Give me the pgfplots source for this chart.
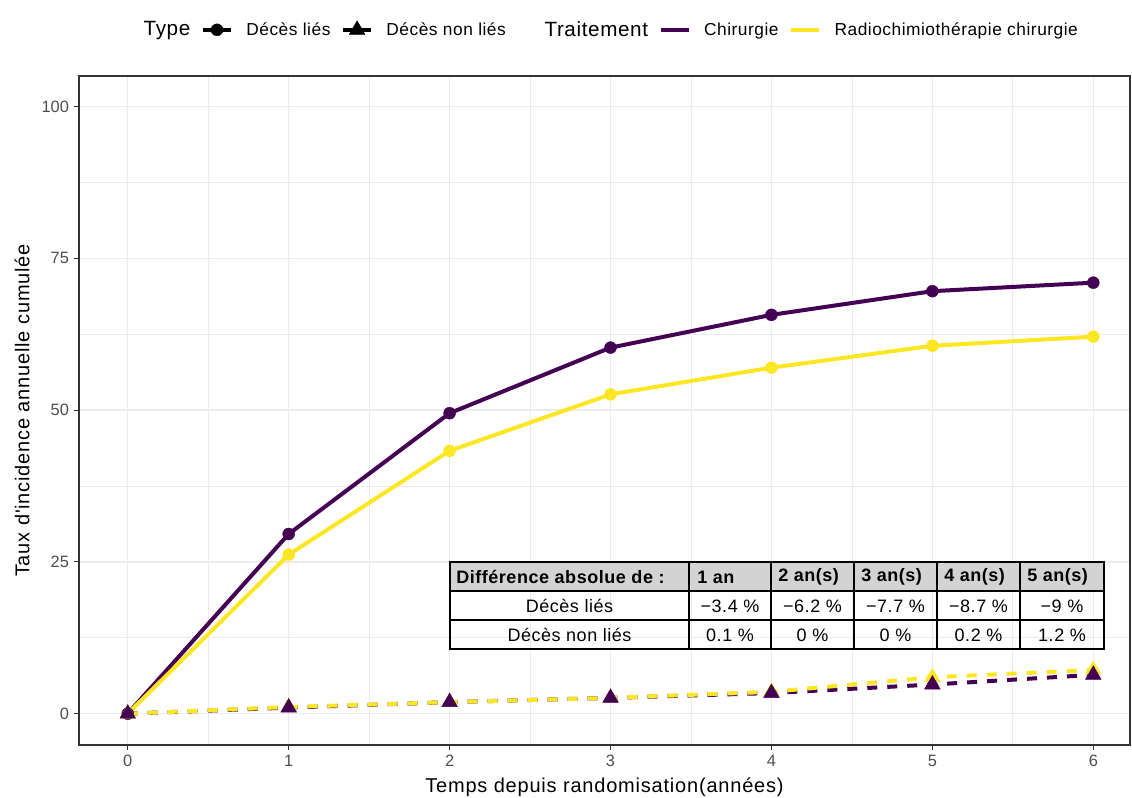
\documentclass[border=0pt]{standalone}
\usepackage{pgfplots}
\pgfplotsset{compat=1.18}
\usepackage{fontspec}
\setmainfont{Liberation Sans}
\newfontfamily\lsfont[LetterSpace=4]{Liberation Sans}
\newfontfamily\lsfontb[LetterSpace=3]{Liberation Sans}
\definecolor{vpurple}{HTML}{440154}
\definecolor{vyellow}{HTML}{FDE725}
\definecolor{gridc}{HTML}{EBEBEB}
\definecolor{grey20}{HTML}{333333}
\definecolor{grey30}{HTML}{4D4D4D}
\definecolor{hdr}{HTML}{D3D3D3}

\pgfplotstableread{
x y
0 0
1 29.6
2 49.5
3 60.3
4 65.7
5 69.6
6 71.0
}\chirlies
\pgfplotstableread{
x y
0 0
1 26.2
2 43.3
3 52.6
4 57.0
5 60.6
6 62.1
}\radiolies
\pgfplotstableread{
x y
0 0
1 1.0
2 1.9
3 2.6
4 3.4
5 4.8
6 6.4
}\chirnonlies
\pgfplotstableread{
x y
0 0
1 1.1
2 1.9
3 2.6
4 3.6
5 6.0
6 7.2
}\radiononlies

\begin{document}
\begin{tikzpicture}
\path[use as bounding box] (-59.25pt,-39.75pt) rectangle (789.75pt,558.75pt);
\begin{axis}[
  at={(0,0)}, anchor=south west,
  scale only axis,
  width=788.25pt, height=501.75pt,
  xmin=-0.303, xmax=6.228,
  ymin=-5.16, ymax=105.05,
  xtick={0,1,2,3,4,5,6},
  minor xtick={0.5,1.5,2.5,3.5,4.5,5.5},
  ytick={0,25,50,75,100},
  minor ytick={12.5,37.5,62.5,87.5},
  grid=both,
  major grid style={color=gridc, line width=1.1pt},
  minor grid style={color=gridc, line width=0.55pt},
  axis line style={color=grey20, line width=1pt},
  tick style={color=grey20, line width=0.8pt},
  major tick length=4pt, minor tick length=0pt,
  tick align=outside,
  xtick pos=bottom, ytick pos=left,
  /pgf/number format/assume math mode=true,
  tick label style={font=\fontsize{12.3}{14}\selectfont, color=grey30},
  xlabel={\lsfont\fontsize{15}{17}\selectfont Temps depuis randomisation(années)},
  ylabel={\lsfont\fontsize{15}{17}\selectfont Taux d'incidence annuelle cumulée},
  xlabel style={at={(axis description cs:0.5,-0.063)}, anchor=center},
  ylabel style={at={(axis description cs:-0.0542,0.5)}, anchor=center},
  legend image code/.code={\draw[mark repeat=2,mark phase=2,#1] plot coordinates {(0pt,0pt) (10.5pt,0pt) (21pt,0pt)};},
  legend columns=-1,
  legend style={at={(0.506,1.069)}, anchor=center, draw=none, fill=none,
    font=\lsfontb\fontsize{13}{15}\selectfont,
    nodes={inner xsep=0pt},
    /tikz/every odd column/.append style={column sep=10pt},
    /tikz/every even column/.append style={column sep=8pt}},
]
\addlegendimage{empty legend}\addlegendentry{\hspace{-10pt}\fontsize{15.5}{17}\selectfont Type}
\addlegendimage{black, line width=3pt, mark=*, mark size=4.5pt, mark options={solid, line width=0.3pt}}\addlegendentry{Décès liés}
\addlegendimage{black, line width=3pt, mark=triangle*, mark size=6.8pt, mark options={solid, line width=0.3pt}}\addlegendentry{Décès non liés}
\addlegendimage{empty legend}\addlegendentry{\hspace{11pt}\fontsize{15.5}{17}\selectfont Traitement}
\addlegendimage{vpurple, line width=3pt}\addlegendentry{Chirurgie}
\addlegendimage{vyellow, line width=3pt}\addlegendentry{Radiochimiothérapie chirurgie}

% lines
\addplot[forget plot, vpurple, line width=3pt, dash pattern=on 7.5pt off 7.5pt, no markers] table {\chirnonlies};
\addplot[forget plot, vyellow, line width=3pt, dash pattern=on 7.5pt off 7.5pt, no markers] table {\radiononlies};
\addplot[forget plot, vpurple, line width=3pt, no markers] table {\chirlies};
\addplot[forget plot, vyellow, line width=3pt, no markers] table {\radiolies};
% marks
\addplot[forget plot, only marks, mark=*, mark size=4.5pt, color=vyellow, mark options={line width=0.3pt}] table {\radiolies};
\addplot[forget plot, only marks, mark=*, mark size=4.5pt, color=vpurple, mark options={line width=0.3pt}] table {\chirlies};
\addplot[forget plot, only marks, mark=triangle*, mark size=6.8pt, color=vyellow, mark options={line width=0.3pt}] table {\radiononlies};
\addplot[forget plot, only marks, mark=triangle*, mark size=6.8pt, color=vpurple, mark options={line width=0.3pt}] table {\chirnonlies};
\end{axis}

\begin{scope}[shift={(-59.25pt,558.75pt)}, x=0.75pt, y=-0.75pt]
  \fill[hdr] (450,562) rectangle (1104,591);
  \draw[line width=1.1pt, black] (450,591) -- (1104,591);
  \draw[line width=1.1pt, black] (450,620) -- (1104,620);
  \foreach \c in {689,771,854,937,1020} {\draw[line width=1.1pt, black] (\c,562) -- (\c,649);}
  \draw[line width=1.4pt, black] (450,562) rectangle (1104,649);
  \begin{scope}[every node/.style={font=\lsfontb\fontsize{13.5}{15}\selectfont, inner sep=0pt}]
    \node[anchor=west, font=\lsfontb\bfseries\fontsize{13.5}{15}\selectfont] at (456,577) {Différence absolue de :};
    \node[anchor=west, font=\lsfontb\bfseries\fontsize{13.5}{15}\selectfont] at (697,577) {1 an};
    \node[anchor=west, font=\lsfontb\bfseries\fontsize{13.5}{15}\selectfont] at (778,577) {2 an(s)};
    \node[anchor=west, font=\lsfontb\bfseries\fontsize{13.5}{15}\selectfont] at (861,577) {3 an(s)};
    \node[anchor=west, font=\lsfontb\bfseries\fontsize{13.5}{15}\selectfont] at (944,577) {4 an(s)};
    \node[anchor=west, font=\lsfontb\bfseries\fontsize{13.5}{15}\selectfont] at (1027,577) {5 an(s)};
    \node at (569.5,606) {Décès liés};
    \node at (730,606) {−3.4 \%};
    \node at (812.5,606) {−6.2 \%};
    \node at (895.5,606) {−7.7 \%};
    \node at (978.5,606) {−8.7 \%};
    \node at (1062,606) {−9 \%};
    \node at (569.5,635) {Décès non liés};
    \node at (730,635) {0.1 \%};
    \node at (812.5,635) {0 \%};
    \node at (895.5,635) {0 \%};
    \node at (978.5,635) {0.2 \%};
    \node at (1062,635) {1.2 \%};
  \end{scope}
\end{scope}
\end{tikzpicture}
\end{document}
